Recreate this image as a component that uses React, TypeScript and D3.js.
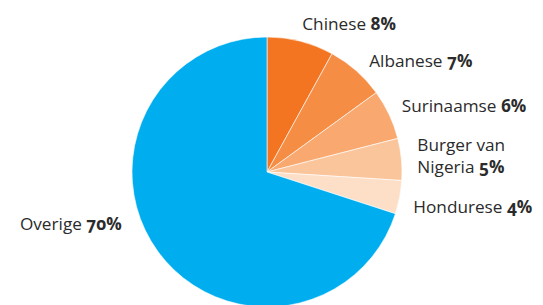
import React from "react";
import * as d3 from "d3";

const categories = ["Chinese", "Albanese", "Surinaamse", "Burger van Nigeria", "Hondurese", "Overige"];
const labelLines = [["Chinese"], ["Albanese"], ["Surinaamse"], ["Burger van", "Nigeria"], ["Hondurese"], ["Overige"]];
const values = [8, 7, 6, 5, 4, 70];
const colors = ["#f37521", "#f68d45", "#f9a96f", "#fbc59b", "#fddec6", "#00aeef"];
// small nudges so labels sit where the original puts them
const labelNudge = [[-2, 3], [3, 8], [-1, 4], [1, -7], [-1, 13], [-24, -30]];

const W = 543;
const H = 305;
const cx = 267;
const cy = 172;
const radius = 135;
const lineGap = 22;

export default function App() {
  const pie = d3.pie<number>().sort(null).value((d) => d);
  const arcs = pie(values);
  const arc = d3.arc<d3.PieArcDatum<number>>().innerRadius(0).outerRadius(radius);
  const labelR = 150;

  return (
    <svg width={W} height={H} style={{ position: "absolute", left: 0, top: 0, fontFamily: "'Open Sans', sans-serif" }}>
      <g transform={`translate(${cx},${cy})`}>
        {arcs.map((a, i) => (
          <path key={i} d={arc(a) || ""} fill={colors[i]} stroke="#fff" strokeWidth={0.6} />
        ))}
        {arcs.map((a, i) => {
          const mid = (a.startAngle + a.endAngle) / 2;
          const x = Math.sin(mid) * labelR + labelNudge[i][0];
          const y = -Math.cos(mid) * labelR + labelNudge[i][1];
          const left = Math.sin(mid) < 0;
          const lines = labelLines[i];
          return lines.map((ln, j) => (
            <text
              key={"t" + i + "-" + j}
              x={x}
              y={y + j * lineGap}
              textAnchor={left ? "end" : "start"}
              fontSize={17.2}
              fill="#2b2b2b"
              style={{ fontVariantNumeric: "oldstyle-nums" }}
            >
              {ln}
              {j === lines.length - 1 && <tspan fontWeight="bold">{" " + values[i] + "%"}</tspan>}
            </text>
          ));
        })}
      </g>
    </svg>
  );
}
